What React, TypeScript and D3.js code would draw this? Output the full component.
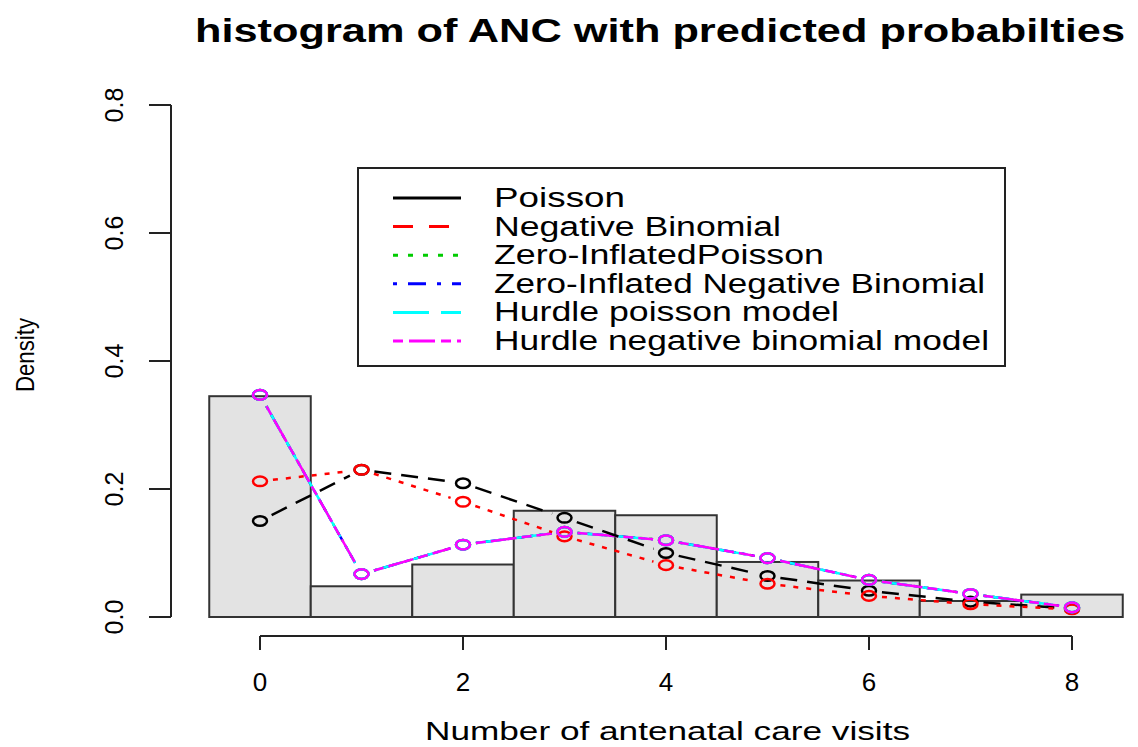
import React from 'react';
import * as d3 from 'd3';

// ---- data ----
const visits = [0, 1, 2, 3, 4, 5, 6, 7, 8];
const observedDensity = [0.345, 0.048, 0.082, 0.166, 0.159, 0.086, 0.057, 0.025, 0.035];
const poissonProb = [0.150, 0.230, 0.209, 0.155, 0.100, 0.064, 0.041, 0.024, 0.013];
const negBinProb = [0.212, 0.230, 0.180, 0.126, 0.081, 0.052, 0.033, 0.020, 0.012];
const zipProb = [0.347, 0.067, 0.113, 0.133, 0.120, 0.092, 0.058, 0.036, 0.015];
const zinbProb = [0.347, 0.067, 0.113, 0.133, 0.120, 0.092, 0.058, 0.036, 0.015];
const hurdlePoisProb = [0.347, 0.067, 0.113, 0.133, 0.120, 0.092, 0.058, 0.036, 0.015];
const hurdleNBProb = [0.347, 0.067, 0.113, 0.133, 0.120, 0.092, 0.058, 0.036, 0.015];
const xTicks = [0, 2, 4, 6, 8];
const yTicks = [0, 0.2, 0.4, 0.6, 0.8];
const yTickLabels = ['0.0', '0.2', '0.4', '0.6', '0.8'];
const seriesNames = [
  'Poisson',
  'Negative Binomial',
  'Zero-InflatedPoisson',
  'Zero-Inflated Negative Binomial',
  'Hurdle poisson model',
  'Hurdle negative binomial model',
];
const titleText = 'histogram of ANC with predicted probabilties';
const xTitle = 'Number of antenatal care visits';
const yTitle = 'Density';

// ---- styles ----
const seriesStyles = [
  { color: '#000000', plotDash: '17,10', legendDash: null },
  { color: '#ff0000', plotDash: '5,8', legendDash: '20,16' },
  { color: '#00cc00', plotDash: '3,6', legendDash: '5,10' },
  { color: '#0000ff', plotDash: '4,6,16,6', legendDash: '4,11,18,11' },
  { color: '#00ffff', plotDash: '30,10', legendDash: '36,12' },
  { color: '#ff00ff', plotDash: '10,5,26,5', legendDash: '10,6,26,6' },
];
const legendWidths = [131, 287, 330, 491, 345, 495];

const FONT = '"Liberation Sans", Arial, Helvetica, sans-serif';

export default function App() {
  const x = d3.scaleLinear().domain([0, 8]).range([260, 1072]);
  const y = d3.scaleLinear().domain([0, 0.8]).range([617, 105]);
  const allSeries = [poissonProb, negBinProb, zipProb, zinbProb, hurdlePoisProb, hurdleNBProb];
  const gap = 13;

  const segs = (vals: number[]) => {
    const out: { x1: number; y1: number; x2: number; y2: number }[] = [];
    for (let i = 0; i < vals.length - 1; i++) {
      const ax = x(visits[i]), ay = y(vals[i]);
      const bx = x(visits[i + 1]), by = y(vals[i + 1]);
      const dx = bx - ax, dy = by - ay;
      const len = Math.hypot(dx, dy);
      if (len <= 2 * gap) continue;
      const ux = dx / len, uy = dy / len;
      out.push({ x1: ax + ux * gap, y1: ay + uy * gap, x2: bx - ux * gap, y2: by - uy * gap });
    }
    return out;
  };

  const legendX = 358, legendY = 168, legendW = 647, legendH = 198;

  return (
    <svg width={1138} height={747} style={{ position: 'absolute', left: 0, top: 0, background: '#fff' }} fontFamily={FONT}>
      <rect x={0} y={0} width={1138} height={747} fill="#fff" />
      {/* title */}
      <text x={195} y={42} fontSize={33} fontWeight="bold" textLength={930} lengthAdjust="spacingAndGlyphs">{titleText}</text>

      {/* bars */}
      {visits.map((v, i) => (
        <rect key={'b' + i} x={x(v - 0.5)} y={y(observedDensity[i])} width={x(v + 0.5) - x(v - 0.5)}
          height={y(0) - y(observedDensity[i])} fill="#e3e3e3" stroke="#333" strokeWidth={2} />
      ))}

      {/* y axis */}
      <line x1={171} x2={171} y1={y(0)} y2={y(0.8)} stroke="#222" strokeWidth={2} />
      {yTicks.map((t, i) => (
        <g key={'yt' + i}>
          <line x1={149} x2={171} y1={y(t)} y2={y(t)} stroke="#222" strokeWidth={2} />
          <text transform={`translate(114,${y(t)}) rotate(-90)`} textAnchor="middle" dominantBaseline="central" fontSize={25}>{yTickLabels[i]}</text>
        </g>
      ))}
      <text transform="translate(25,355) rotate(-90)" textAnchor="middle" dominantBaseline="central" fontSize={25} textLength={74} lengthAdjust="spacingAndGlyphs">{yTitle}</text>

      {/* x axis */}
      <line x1={x(0)} x2={x(8)} y1={636} y2={636} stroke="#222" strokeWidth={2} />
      {xTicks.map((t) => (
        <g key={'xt' + t}>
          <line x1={x(t)} x2={x(t)} y1={636} y2={650} stroke="#222" strokeWidth={2} />
          <text x={x(t)} y={691} textAnchor="middle" fontSize={26}>{t}</text>
        </g>
      ))}
      <text x={425} y={740} fontSize={25} textLength={485} lengthAdjust="spacingAndGlyphs">{xTitle}</text>

      {/* series lines */}
      {[2, 3, 4, 5, 0, 1].map((si) => (
        <g key={'s' + si}>
          {segs(allSeries[si]).map((s, j) => (
            <line key={j} x1={s.x1} y1={s.y1} x2={s.x2} y2={s.y2} stroke={seriesStyles[si].color}
              strokeWidth={2.5} strokeDasharray={seriesStyles[si].plotDash} />
          ))}
        </g>
      ))}
      {/* points */}
      {[0, 1, 2, 3, 4, 5].map((si) => (
        <g key={'p' + si}>
          {allSeries[si].map((v, j) => (
            <ellipse key={j} cx={x(visits[j])} cy={y(v)} rx={7} ry={4.8} fill="none"
              stroke={seriesStyles[si].color} strokeWidth={2.5} />
          ))}
        </g>
      ))}

      {/* legend */}
      <rect x={legendX} y={legendY} width={legendW} height={legendH} fill="#fff" stroke="#222" strokeWidth={2} />
      {seriesNames.map((name, i) => {
        const ry = 198 + i * 28.6;
        return (
          <g key={'l' + i}>
            <line x1={393} x2={461} y1={ry} y2={ry} stroke={seriesStyles[i].color} strokeWidth={3}
              strokeDasharray={seriesStyles[i].legendDash || undefined} />
            <text x={494} y={ry + 9} fontSize={27} textLength={legendWidths[i]} lengthAdjust="spacingAndGlyphs">{name}</text>
          </g>
        );
      })}
    </svg>
  );
}
